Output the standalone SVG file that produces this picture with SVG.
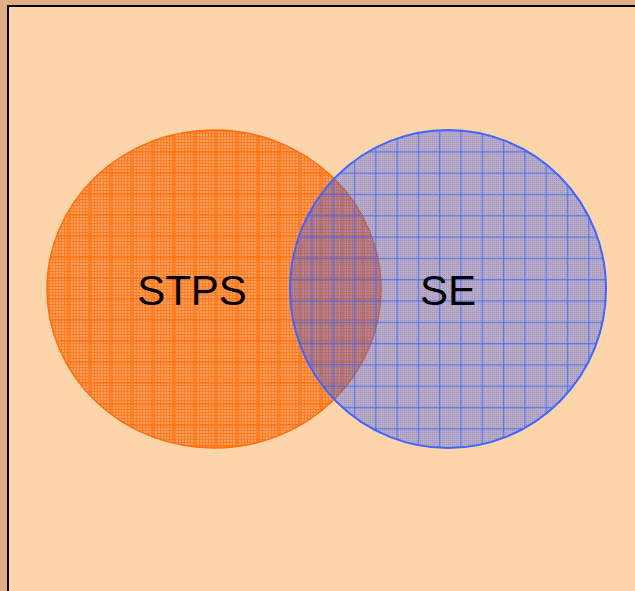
<svg xmlns="http://www.w3.org/2000/svg" width="635" height="591" viewBox="0 0 635 591">
<defs>
<pattern id="oDots" patternUnits="userSpaceOnUse" width="3" height="3">
<rect width="3" height="3" fill="#FF9E5C"/>
<rect x="1" y="0" width="1" height="3" fill="#FF7D24"/>
<rect x="0" y="1" width="3" height="1" fill="#FF7D24"/>
</pattern>
<pattern id="oGrid" patternUnits="userSpaceOnUse" x="47" y="130" width="21" height="21">
<rect x="0" y="0" width="2" height="21" fill="#FF7310" opacity="0.6"/>
<rect x="0" y="0" width="21" height="2" fill="#FF7310" opacity="0.6"/>
</pattern>
<pattern id="bDots" patternUnits="userSpaceOnUse" width="2" height="2">
<rect width="2" height="2" fill="#3355EE" fill-opacity="0.33"/>
<rect x="0" y="0" width="1" height="1" fill="#3355EE" fill-opacity="0.25"/>
</pattern>
<pattern id="bGrid" patternUnits="userSpaceOnUse" x="290" y="130" width="21.3" height="21.3">
<rect x="0" y="0" width="1.2" height="21.3" fill="#3F66FF" opacity="0.75"/>
<rect x="0" y="0" width="21.3" height="1.2" fill="#3F66FF" opacity="0.75"/>
</pattern>
<style>
.lbl{font-family:"Liberation Sans",Arial,sans-serif;font-size:42px;fill:#000;text-anchor:middle;dominant-baseline:central}
</style>
</defs>
<rect width="635" height="591" fill="#DFAE86"/>
<rect x="10" y="8" width="640" height="600" fill="#9a8a7a"/>
<rect x="8" y="6" width="640" height="600" fill="#FED5AB" stroke="#000" stroke-width="2"/>
<g id="stps">
<ellipse cx="214" cy="289" rx="167" ry="159" fill="url(#oDots)"/>
<ellipse cx="214" cy="289" rx="167" ry="159" fill="url(#oGrid)" stroke="#FF6E0A" stroke-width="1.5"/>
<text class="lbl" x="192" y="290">STPS</text>
</g>
<g id="se">
<ellipse cx="448" cy="289" rx="158" ry="159" fill="url(#bDots)"/>
<ellipse cx="448" cy="289" rx="158" ry="159" fill="url(#bGrid)" stroke="#3F66FF" stroke-width="2"/>
<text class="lbl" x="448" y="290">SE</text>
</g>
<g id="connectors"/>
</svg>
